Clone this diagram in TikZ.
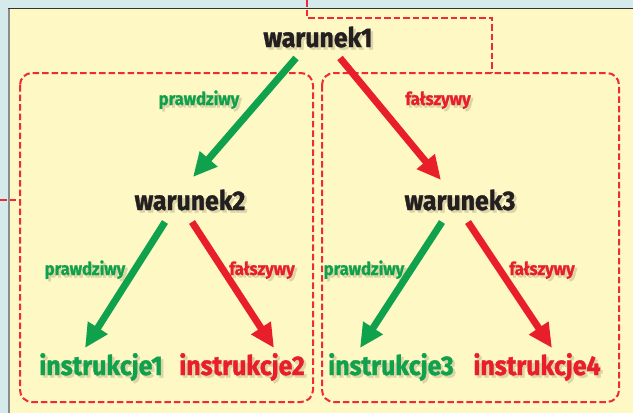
\documentclass[tikz,border=0pt]{standalone}
\usepackage{fontspec}
\setmainfont{Fira Sans}
\newfontfamily\cfont[FakeStretch=0.92,FakeBold=1.3]{Fira Sans}
\newfontfamily\lfont[FakeStretch=0.92,FakeBold=0.8]{Fira Sans}
\usetikzlibrary{arrows.meta}
\definecolor{bgc}{HTML}{D5EAEA}
\definecolor{panel}{HTML}{FEF8C4}
\definecolor{grn}{HTML}{0FA14B}
\definecolor{rd}{HTML}{E81E2B}
\definecolor{dashc}{HTML}{EE2B36}
\definecolor{ink}{HTML}{231F20}
\definecolor{shdB}{HTML}{DDD5A6}
\newcommand\shtext[2]{\makebox[0pt][l]{\hspace*{2.5pt}\raisebox{-2.5pt}{\color{shdB}#2}}{\color{#1}#2}}
\tikzset{
  cond/.style={font=\cfont\bfseries\fontsize{27}{27}\selectfont, inner sep=0pt, anchor=base},
  lab/.style={font=\lfont\bfseries\fontsize{18}{18}\selectfont, inner sep=0pt, anchor=base},
  arr/.style={line width=7pt, -{Triangle[length=24pt,width=22pt]}},
  garr/.style={arr, draw=grn},
  rarr/.style={arr, draw=rd},
  dbox/.style={draw=dashc, line width=2pt, dash pattern=on 6.5pt off 3pt, rounded corners=12pt},
  dline/.style={draw=dashc, line width=2pt, dash pattern=on 6.5pt off 3pt},
}
\begin{document}
\begin{tikzpicture}[x=1pt,y=-1pt]
\useasboundingbox (0,0) rectangle (633,413);
\fill[bgc] (0,0) rectangle (633,413);
\fill[panel] (9,8) rectangle (633,413);
\draw[line width=2pt, color=black!45] (9,8) -- (9,413);
\draw[line width=1pt, color=black!80] (8,8) -- (633,8);
% dashed group boxes
\draw[dbox] (20,73) rectangle (313,402);
\draw[dbox] (322,73) rectangle (619,402);
\coordinate (topin) at (307,0);
\coordinate (leftin) at (0,200);
\coordinate (rtop) at (492,73);
\coordinate (ltop) at (20,200);
\draw[dline] (topin) -- (307,18) -- (492,18) -- (rtop);
\draw[dline] (leftin) -- (ltop);
% nodes
\node[cond] (w1) at (318,47) {\shtext{ink}{warunek1}};
\node[cond] (w2) at (190,210) {\shtext{ink}{warunek2}};
\node[cond] (w3) at (460,210) {\shtext{ink}{warunek3}};
\node[cond] (i1) at (101,375) {\shtext{grn}{instrukcje1}};
\node[cond] (i2) at (242,375) {\shtext{rd}{instrukcje2}};
\node[cond] (i3) at (391,375) {\shtext{grn}{instrukcje3}};
\node[cond] (i4) at (537,375) {\shtext{rd}{instrukcje4}};
\node[lab] (p1) at (199,105) {\shtext{grn}{prawdziwy}};
\node[lab] (f1) at (438,105) {\shtext{rd}{fałszywy}};
\node[lab] (p2) at (85,275) {\shtext{grn}{prawdziwy}};
\node[lab] (f2) at (262,275) {\shtext{rd}{fałszywy}};
\node[lab] (p3) at (364,275) {\shtext{grn}{prawdziwy}};
\node[lab] (f3) at (542,275) {\shtext{rd}{fałszywy}};
% arrows
\draw[garr] ([shift={(-22,11)}]w1.base) -- ([shift={(3,-33)}]w2.base);
\draw[rarr] ([shift={(22,11)}]w1.base) -- ([shift={(-19,-30)}]w3.base);
\draw[garr] ([shift={(-25,12)}]w2.base) -- ([shift={(-16,-27)}]i1.base);
\draw[rarr] ([shift={(2,12)}]w2.base) -- ([shift={(32,-27)}]i2.base);
\draw[garr] ([shift={(-18,12)}]w3.base) -- ([shift={(-31,-27)}]i3.base);
\draw[rarr] ([shift={(8,12)}]w3.base) -- ([shift={(15,-27)}]i4.base);
\end{tikzpicture}
\end{document}
